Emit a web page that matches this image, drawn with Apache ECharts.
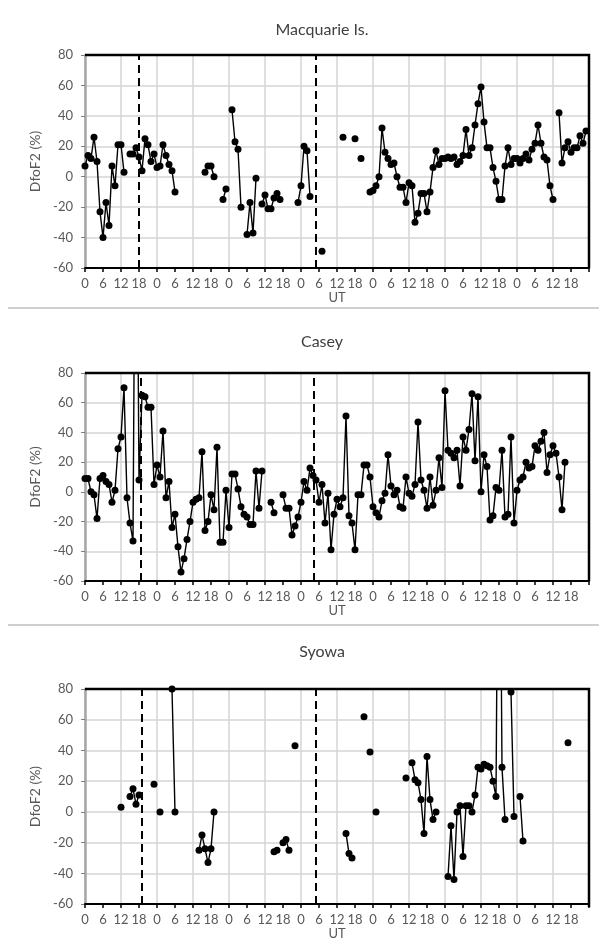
<!DOCTYPE html>
<html>
<head>
<meta charset="utf-8">
<script src="https://cdn.jsdelivr.net/npm/echarts@6/dist/echarts.min.js"></script>
<style>
  html, body { margin: 0; padding: 0; background: #fff; }
  #chart { width: 599px; height: 941px; }
</style>
</head>
<body>
<div id="chart"></div>
<script>
// hourly DfoF2 (%) values, [hour since start, value]; missing hours are gaps
const macquarie = [
  [0, 7], [1, 14], [2, 12], [3, 26], [4, 10], [5, -23], [6, -40], [7, -17], [8, -32], [9, 7],
  [10, -6], [11, 21], [12, 21], [13, 3],
  [15, 15], [16, 15], [17, 19], [18, 13], [19, 4], [20, 25], [21, 21], [22, 10], [23, 15], [24, 6],
  [25, 7], [26, 21], [27, 14], [28, 8], [29, 4], [30, -10],
  [40, 3], [41, 7], [42, 7], [43, 0],
  [46, -15], [47, -8],
  [49, 44], [50, 23], [51, 18], [52, -20],
  [54, -38], [55, -17], [56, -37], [57, -1],
  [59, -18], [60, -12], [61, -21], [62, -21], [63, -14], [64, -11], [65, -15],
  [71, -17], [72, -6], [73, 20], [74, 17], [75, -13],
  [79, -49],
  [86, 26],
  [90, 25],
  [92, 12],
  [95, -10], [96, -9], [97, -6], [98, 0], [99, 32], [100, 16], [101, 12], [102, 8], [103, 9], [104, 0],
  [105, -7], [106, -7], [107, -17], [108, -4], [109, -6], [110, -30], [111, -24], [112, -11], [113, -11],
  [114, -23], [115, -10], [116, 6], [117, 17], [118, 8], [119, 12], [120, 12], [121, 13], [122, 12],
  [123, 13], [124, 8], [125, 10], [126, 14], [127, 31], [128, 14], [129, 19], [130, 34], [131, 48],
  [132, 59], [133, 36], [134, 19], [135, 19], [136, 6], [137, -3], [138, -15], [139, -15], [140, 7],
  [141, 19], [142, 8], [143, 12], [144, 12], [145, 9], [146, 12], [147, 15], [148, 11], [149, 18],
  [150, 22], [151, 34], [152, 22], [153, 13], [154, 11], [155, -6], [156, -15],
  [158, 42], [159, 9], [160, 19], [161, 23], [162, 16], [163, 19], [164, 19], [165, 27], [166, 22], [167, 30]
];

const casey = [
  [0, 9], [1, 9], [2, 0], [3, -2], [4, -18], [5, 9], [6, 11], [7, 7], [8, 5], [9, -7],
  [10, 1], [11, 29], [12, 37], [13, 70], [14, -4], [15, -21], [16, -33], [17, 300], [18, 8], [19, 65],
  [20, 64], [21, 57], [22, 57], [23, 5], [24, 18], [25, 10], [26, 41], [27, -4], [28, 7], [29, -24],
  [30, -15], [31, -37], [32, -54], [33, -45], [34, -32], [35, -20], [36, -7], [37, -5], [38, -4], [39, 27],
  [40, -26], [41, -20], [42, -2], [43, -12], [44, 30], [45, -34], [46, -34], [47, 1], [48, -24], [49, 12],
  [50, 12], [51, 2], [52, -10], [53, -15], [54, -17], [55, -22], [56, -22], [57, 14], [58, -11], [59, 14],
  [62, -7], [63, -14],
  [66, -2], [67, -11], [68, -11], [69, -29], [70, -23], [71, -17], [72, -7], [73, 7], [74, 1],
  [75, 16], [76, 11], [77, 8], [78, -7], [79, 5], [80, -21], [81, -1], [82, -39], [83, -15], [84, -5],
  [85, -10], [86, -4], [87, 51], [88, -16], [89, -21], [90, -39], [91, -2], [92, -2], [93, 18], [94, 18],
  [95, 10], [96, -10], [97, -14], [98, -17], [99, -6], [100, -1], [101, 25], [102, 4], [103, -2], [104, 1],
  [105, -10], [106, -11], [107, 10], [108, -1], [109, -3], [110, 5], [111, 47], [112, 8], [113, 1], [114, -11],
  [115, 10], [116, -9], [117, 1], [118, 23], [119, 3], [120, 68], [121, 28], [122, 26], [123, 23], [124, 28],
  [125, 4], [126, 37], [127, 28], [128, 42], [129, 66], [130, 21], [131, 64], [132, 0], [133, 25], [134, 17],
  [135, -19], [136, -16], [137, 3], [138, 1], [139, 28], [140, -17], [141, -15], [142, 37], [143, -21], [144, 1],
  [145, 8], [146, 10], [147, 20], [148, 16], [149, 17], [150, 31], [151, 28], [152, 34], [153, 40], [154, 13],
  [155, 25], [156, 31], [157, 26], [158, 10], [159, -12], [160, 20]
];

const syowa = [
  [12, 3],
  [15, 10], [16, 15], [17, 5], [18, 11],
  [23, 18],
  [25, 0],
  [29, 80], [30, 0],
  [38, -25], [39, -15], [40, -24], [41, -33], [42, -24], [43, 0],
  [63, -26], [64, -25],
  [66, -20], [67, -18], [68, -25],
  [70, 43],
  [87, -14], [88, -27], [89, -30],
  [93, 62],
  [95, 39],
  [97, 0],
  [107, 22],
  [109, 32], [110, 21], [111, 19], [112, 8], [113, -14], [114, 36], [115, 8], [116, -5], [117, 0],
  [121, -42], [122, -9], [123, -44], [124, 0], [125, 4], [126, -29], [127, 4], [128, 4], [129, 0],
  [130, 11], [131, 29], [132, 28], [133, 31], [134, 30], [135, 29], [136, 20], [137, 10], [138, 300],
  [139, 29], [140, -5],
  [142, 78], [143, -3],
  [145, 10], [146, -19],
  [161, 45]
];

const stations = ["Macquarie Is.", "Casey", "Syowa"];
const stationData = [macquarie, casey, syowa];
// storm markers (hour) drawn as dashed verticals
const onsetHours = [[18, 77], [18.7, 76.2], [19, 77]];
const utLabels = ["0", "6", "12", "18"];
const yTicks = [-60, -40, -20, 0, 20, 40, 60, 80];

const panels = [
  { top: 55, height: 213, titleY: 30 },
  { top: 373, height: 208, titleY: 342 },
  { top: 689, height: 218, titleY: 652 }
];
const separators = [308, 625];
const plotLeft = 85, plotWidth = 504;

// break the line where hours are missing
function withGaps(pts) {
  const out = [];
  pts.forEach((p, i) => {
    if (i > 0 && p[0] - pts[i - 1][0] > 1) out.push([pts[i - 1][0] + 1, "-"]);
    out.push(p);
  });
  return out;
}

const labelColor = "#595959";
const font = "Lato, 'Open Sans', sans-serif";

const grid = [], xAxis = [], yAxis = [], series = [], graphic = [];

panels.forEach((p, i) => {
  grid.push({ left: plotLeft, width: plotWidth, top: p.top, height: p.height });
  // labelled axis, ticks every 6 h
  xAxis.push({
    gridIndex: i, type: "value", min: 0, max: 168, interval: 6,
    name: "UT", nameLocation: "middle", nameGap: 22,
    nameTextStyle: { color: labelColor, fontSize: 13, fontFamily: font },
    axisLine: { onZero: false, lineStyle: { color: "#000", width: 2 } },
    axisTick: { length: 4, lineStyle: { color: "#000", width: 1.5 } },
    axisLabel: {
      color: labelColor, fontSize: 13, fontFamily: font, margin: 9,
      formatter: v => v >= 168 ? "" : utLabels[(v % 24) / 6]
    },
    splitLine: { show: false }
  });
  // hidden axis for the 12 h grid lines
  xAxis.push({
    gridIndex: i, type: "value", min: 0, max: 168, interval: 12, position: "top",
    axisLine: { show: false }, axisTick: { show: false }, axisLabel: { show: false },
    splitLine: { lineStyle: { color: "#d4d4d4", width: 1.5 } }
  });
  yAxis.push({
    gridIndex: i, type: "value", min: yTicks[0], max: yTicks[yTicks.length - 1], interval: 20,
    name: "DfoF2 (%)", nameLocation: "middle", nameGap: 31, nameRotate: 90,
    nameTextStyle: { color: labelColor, fontSize: 14, fontFamily: font },
    axisLine: { show: true, onZero: false, lineStyle: { color: "#a6a6a6", width: 2.5 } },
    axisTick: { show: true, length: 4, lineStyle: { color: "#7f7f7f" } },
    axisLabel: { color: labelColor, fontSize: 13, fontFamily: font, margin: 12 },
    splitLine: { lineStyle: { color: "#d4d4d4", width: 1.5 } }
  });
  series.push({
    type: "line",
    xAxisIndex: i * 2, yAxisIndex: i,
    data: withGaps(stationData[i]),
    connectNulls: false,
    clip: true,
    symbol: "circle", symbolSize: 7,
    itemStyle: { color: "#000" },
    lineStyle: { color: "#000", width: 1.4 },
    markLine: {
      silent: true, symbol: ["none", "none"],
      label: { show: false },
      lineStyle: { color: "#000", type: [8, 5], width: 2 },
      data: onsetHours[i].map(h => ({ xAxis: h }))
    }
  });
  // black frame on top and right
  graphic.push({
    type: "polyline", z: 100, silent: true,
    shape: { points: [
      [plotLeft, p.top], [plotLeft + plotWidth, p.top],
      [plotLeft + plotWidth, p.top + p.height]
    ] },
    style: { stroke: "#000", lineWidth: 2.5, fill: null }
  });
  graphic.push({
    type: "text", x: 322, y: p.titleY, z: 100,
    style: {
      text: stations[i], fill: "#404040", fontSize: 16, fontFamily: font,
      textAlign: "center", textVerticalAlign: "middle"
    }
  });
});

separators.forEach(y => {
  graphic.push({
    type: "line", shape: { x1: 8, y1: y, x2: 599, y2: y },
    style: { stroke: "#cfcfcf", lineWidth: 2 }
  });
});

const chart = echarts.init(document.getElementById("chart"));
chart.setOption({
  animation: false,
  backgroundColor: "#fff",
  grid, xAxis, yAxis, series, graphic
});
</script>
</body>
</html>
